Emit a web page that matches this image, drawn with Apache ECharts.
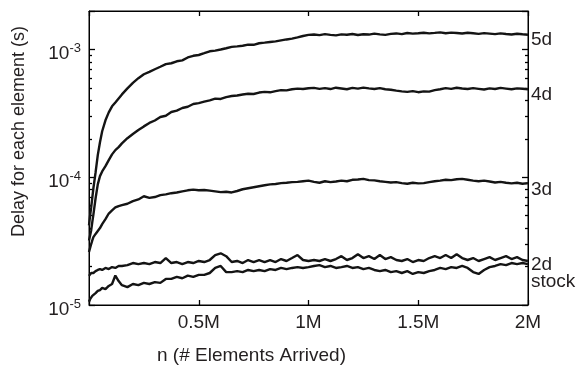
<!DOCTYPE html>
<html>
<head>
<meta charset="utf-8">
<script src="https://cdn.jsdelivr.net/npm/echarts@6/dist/echarts.min.js"></script>
<style>
html,body{margin:0;padding:0;background:#fff;}
#chart{width:584px;height:367px;}
</style>
</head>
<body>
<div id="chart"></div>
<script>
// x positions: number of elements arrived, in millions
const elementsM = [0, 0.005, 0.01, 0.015, 0.02, 0.03, 0.04, 0.05, 0.06, 0.075, 0.09, 0.105, 0.12, 0.135, 0.15,
  0.175, 0.2, 0.225, 0.25, 0.275, 0.3, 0.325, 0.35, 0.375, 0.4, 0.425, 0.45, 0.475, 0.5, 0.525, 0.55, 0.575, 0.6, 0.625, 0.65, 0.675, 0.7, 0.725, 0.75, 0.775, 0.8, 0.825, 0.85, 0.875, 0.9, 0.925, 0.95, 0.975, 1.0,
  1.025, 1.05, 1.075, 1.1, 1.125, 1.15, 1.175, 1.2, 1.225, 1.25, 1.275, 1.3, 1.325, 1.35, 1.375, 1.4, 1.425, 1.45, 1.475, 1.5, 1.525, 1.55, 1.575, 1.6, 1.625, 1.65, 1.675, 1.7, 1.725, 1.75, 1.775, 1.8, 1.825, 1.85, 1.875, 1.9, 1.925, 1.95, 1.975, 2.0];

// delay per element, in microseconds
const delay5d = [42, 50, 58, 69, 82, 109, 149, 188, 229, 279, 322, 359, 385, 414, 445,
  496, 548, 596, 640, 668, 700, 732, 768, 780, 808, 822, 866, 892, 905, 935, 968, 980, 1000, 1022, 1048, 1058, 1070, 1090, 1088, 1118, 1130, 1145, 1158, 1178, 1198, 1215, 1242, 1275, 1300,
  1310, 1295, 1318, 1300, 1290, 1312, 1305, 1322, 1298, 1315, 1308, 1330, 1312, 1300, 1325, 1335, 1318, 1345, 1330, 1338, 1352, 1335, 1348, 1362, 1340, 1355, 1345, 1332, 1350, 1338, 1325, 1342, 1330, 1318, 1335, 1322, 1310, 1328, 1315, 1305];

const delay4d = [32, 35, 38.5, 44.5, 51, 68.5, 88, 102, 111, 122, 136, 151, 163, 172, 184,
  202, 218, 234, 250, 266, 278, 296, 303, 324, 332, 348, 356, 374, 380, 390, 400, 412, 410, 424, 432, 436, 444, 450, 448, 460, 466, 462, 472, 480, 478, 488, 494, 490, 497,
  500, 492, 498, 490, 502, 495, 488, 500, 494, 503, 496, 490, 498, 488, 484, 476, 470, 466, 472, 463, 470, 468, 480, 488, 498, 492, 502, 495, 490, 498, 492, 486, 496, 490, 500, 494, 488, 496, 492, 488];

const delay3d = [26, 28, 30, 32, 34, 36, 38, 40, 43, 47, 52, 55, 58, 59.5, 60.5,
  62, 65, 67, 71, 69, 70, 72.5, 73.5, 75, 76, 77.5, 79, 80, 79, 79.5, 78.5, 77.5, 76.5, 77, 76, 78, 80.5, 82, 83.5, 85, 86.5, 88, 88.5, 90, 90.5, 91.5, 92, 93, 94,
  92, 90.5, 93, 91.5, 92.5, 94, 93, 95.5, 96, 97, 95, 94.5, 93, 92, 91, 91.5, 90, 89, 90.5, 89.5, 90, 91.5, 93, 94, 95.5, 95, 96.5, 97, 95.5, 94, 93, 94, 92.5, 91, 92, 90.5, 89.5, 90.5, 89, 90];

const delay2d = [16.9, 17.5, 17.8, 18.1, 17.8, 18.4, 18.8, 19.1, 18.8, 19.5, 19.1, 19.8, 19.5, 20.2, 20.2,
  20.5, 21.3, 20.9, 21.3, 20.9, 21.7, 21.3, 23.3, 21.3, 21.7, 20.9, 21.7, 21.3, 22.1, 21.7, 22.5, 24.6, 25.4, 24.1, 21.7, 22.1, 21.3, 22.5, 21.7, 22.5, 21.7, 22.5, 21.7, 22.9, 22.1, 23.3, 24.6, 22.5, 22.1,
  22.5, 22.1, 22.9, 22.1, 22.9, 24.1, 22.5, 23.3, 25.0, 23.3, 24.1, 22.9, 24.6, 22.9, 23.7, 22.5, 22.1, 22.9, 21.7, 22.5, 22.1, 23.3, 24.1, 23.3, 24.6, 23.3, 25.0, 23.3, 22.5, 23.3, 22.1, 22.9, 23.7, 22.5, 23.3, 24.1, 22.9, 23.7, 22.5, 22.1];

const delayStock = [10.6, 11.1, 11.5, 11.8, 12.2, 12.4, 12.9, 13.1, 13.6, 13.3, 14.1, 14.6, 17.0, 15.4, 14.3,
  13.8, 14.6, 14.3, 14.9, 14.6, 15.1, 14.9, 16.0, 16.0, 16.6, 16.2, 17.0, 16.6, 17.2, 17.2, 17.8, 19.5, 20.2, 18.1, 18.1, 18.4, 18.1, 18.8, 18.4, 18.8, 18.4, 19.1, 18.8, 19.5, 19.1, 19.5, 19.8, 19.5, 19.8,
  20.2, 20.5, 19.8, 20.2, 19.5, 19.8, 20.2, 19.5, 19.8, 19.1, 19.5, 18.8, 18.4, 18.8, 18.1, 18.4, 17.8, 18.4, 17.5, 18.1, 17.8, 18.4, 18.8, 19.5, 19.1, 19.8, 19.5, 20.2, 19.5, 18.1, 17.5, 18.8, 19.8, 20.2, 20.9, 20.5, 21.3, 20.9, 21.3, 20.9];

const seriesNames = ['5d', '4d', '3d', '2d', 'stock'];
const xTickValues = [0.5, 1, 1.5, 2];

const FONT = '"Liberation Sans", Arial, Helvetica, sans-serif';
const TXT = '#231f20';

const chart = echarts.init(document.getElementById('chart'));

function mk(name, vals, dy) {
  return {
    name: name,
    type: 'line',
    showSymbol: false,
    symbol: 'none',
    animation: false,
    xAxisIndex: 0,
    yAxisIndex: 0,
    data: elementsM.map((x, i) => [x, vals[i] * 1e-6]),
    lineStyle: { color: '#141414', width: 2.4 },
    itemStyle: { color: '#141414' },
    endLabel: {
      show: true,
      formatter: name,
      distance: 3,
      offset: [0, dy],
      color: TXT,
      fontSize: 19,
      fontFamily: FONT
    }
  };
}

function yLabel(v) {
  const e = Math.log10(v);
  const r = Math.round(e);
  if (Math.abs(e - r) > 1e-6) return '';
  return '{b|10}{s|' + r + '}';
}

function yAxisDef(pos, labels) {
  return {
    type: 'log',
    logBase: 10,
    min: 1e-5,
    max: 2e-3,
    position: pos,
    axisLine: { show: true, onZero: false, lineStyle: { color: '#000', width: 1 } },
    axisTick: { show: true, inside: true, length: 6, lineStyle: { color: '#000', width: 1.3 } },
    minorTick: { show: true, splitNumber: 9, length: 3, lineStyle: { color: '#000', width: 1.3 } },
    splitLine: { show: false },
    minorSplitLine: { show: false },
    axisLabel: labels ? {
      show: true, margin: 8, color: TXT, fontFamily: FONT,
      padding: [9, 0, 0, 0],
      formatter: yLabel,
      rich: {
        b: { fontSize: 19, lineHeight: 24, fontFamily: FONT, color: TXT },
        s: { fontSize: 13, lineHeight: 13, verticalAlign: 'top', fontFamily: FONT, color: TXT }
      }
    } : { show: false }
  };
}

function xAxisDef(pos, labels) {
  return {
    type: 'value', min: 0, max: 2, interval: 0.5, position: pos,
    axisLine: { show: true, onZero: false, lineStyle: { color: '#000', width: 1 } },
    axisTick: { show: true, inside: true, length: 5, lineStyle: { color: '#000', width: 1.3 } },
    splitLine: { show: false },
    axisLabel: {
      show: true, margin: 8, color: labels ? TXT : 'rgba(0,0,0,0)', fontSize: 19, fontFamily: FONT,
      formatter: v => (xTickValues.indexOf(v) >= 0 ? v + 'M' : '')
    }
  };
}

chart.setOption({
  animation: false,
  backgroundColor: '#fff',
  grid: { left: 89, right: 56, top: 11, bottom: 62, outerBoundsMode: 'none',
          show: true, borderColor: '#000', borderWidth: 1, backgroundColor: 'transparent' },
  xAxis: [xAxisDef('bottom', true), xAxisDef('top', false)],
  yAxis: [yAxisDef('left', true), yAxisDef('right', false)],
  graphic: [
    {
      type: 'text', x: 19, y: 131.5, rotation: Math.PI / 2,
      style: { text: 'Delay for each element (s)', fontSize: 18, fontFamily: FONT, fill: TXT, align: 'center', verticalAlign: 'middle' }
    },
    {
      type: 'text', x: 251.5, y: 356,
      style: { text: 'n (# Elements Arrived)', fontSize: 19, fontFamily: FONT, fill: TXT, align: 'center', verticalAlign: 'middle' }
    }
  ],
  series: [
    mk(seriesNames[0], delay5d, 5.5),
    mk(seriesNames[1], delay4d, 5),
    mk(seriesNames[2], delay3d, 7),
    mk(seriesNames[3], delay2d, 4),
    mk(seriesNames[4], delayStock, 17.5)
  ]
});
</script>
</body>
</html>
